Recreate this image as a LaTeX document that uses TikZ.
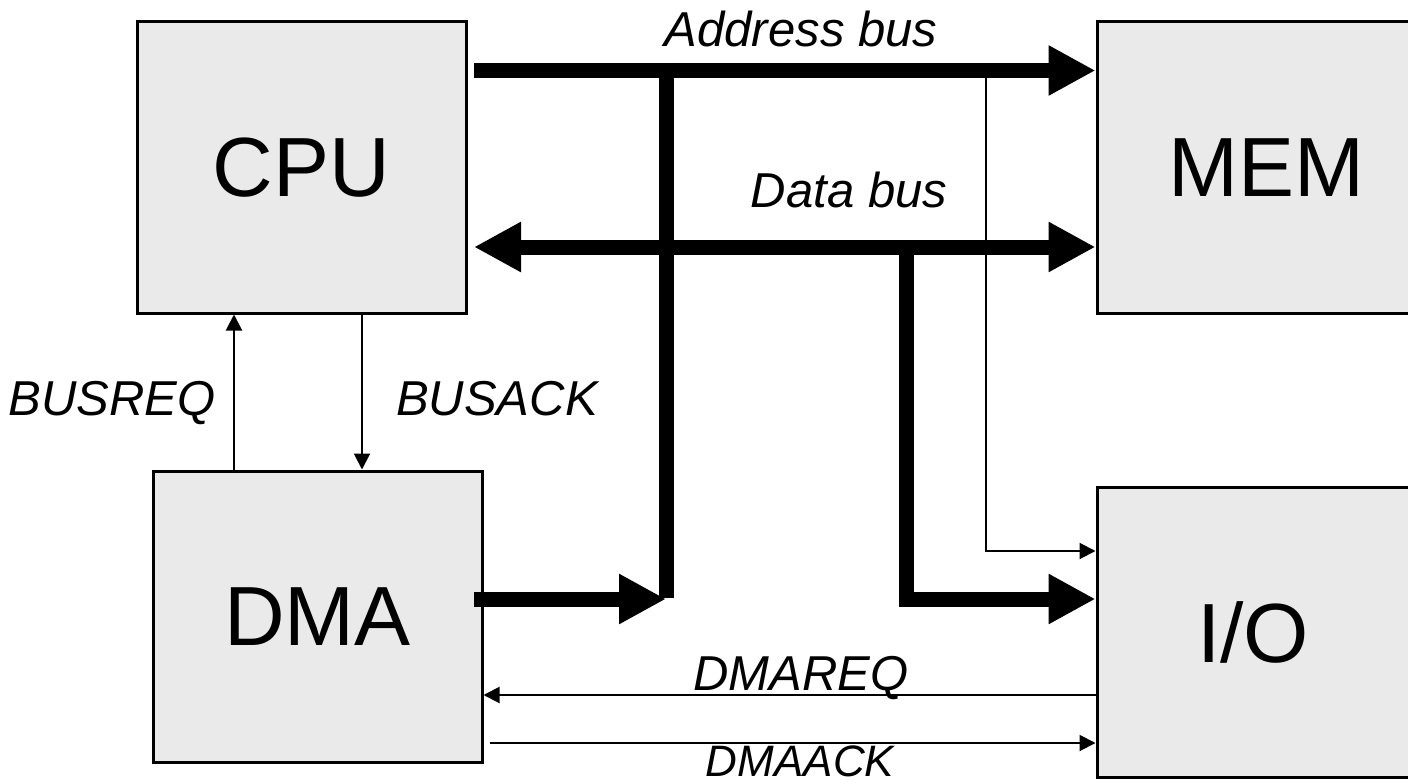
\documentclass[tikz,border=0pt]{standalone}
\usepackage{fontspec}
\setmainfont{Liberation Sans}
\usetikzlibrary{arrows.meta}
\definecolor{boxgray}{HTML}{EAEAEA}
\begin{document}
\begin{tikzpicture}[x=1pt,y=-1pt,
  unit/.style={draw=black, line width=3pt, fill=boxgray, inner sep=0pt,
    minimum width=329pt, minimum height=291pt, font=\fontsize{84}{84}\selectfont},
  bus/.style={line width=15pt, line cap=butt},
  busarrow/.style={bus, -{Triangle[length=47pt,width=47pt]}},
  busboth/.style={bus, {Triangle[length=47pt,width=47pt]}-{Triangle[length=47pt,width=47pt]}},
  sig/.style={line width=2pt, -{Triangle[length=16pt,width=16pt]}},
  lbl/.style={font=\fontsize{49}{49}\selectfont\itshape, inner sep=0pt, anchor=base}]
\useasboundingbox (0,0) rectangle (1408,784);
% units
\node[unit] (CPU) at (301.5,167.5) {CPU};
\node[unit, minimum width=338pt] (MEM) at (1266,167.5) {MEM};
\node[unit] (DMA) at (317.5,616.5) {DMA};
\node[unit, minimum width=338pt, minimum height=290pt] (IO) at (1266,632) {I/O\hspace*{26pt}};
% helper coordinates
\coordinate (abs) at (474,70.5);
\coordinate (dbs) at (474,247);
\coordinate (avt) at (666,63);
\coordinate (avb) at (666,598);
\coordinate (dms) at (474,599);
\coordinate (dvt) at (906,247);
\coordinate (tap) at (986,78);
\coordinate (tapy) at (0,551);
\coordinate (busy) at (0,599);
\coordinate (rqx) at (234,0);
\coordinate (akx) at (362,0);
\coordinate (dry) at (0,695);
\coordinate (dak) at (490,743);
% buses
\draw[busarrow] (abs) -- (abs -| MEM.west);
\draw[bus] (avt) -- (avb);
\draw[busarrow] (dms) -- (dms -| avt);
\draw[busboth] (dbs) -- (dbs -| MEM.west);
\draw[busarrow] (dvt) |- (IO.west |- busy);
\draw[sig] (tap) |- (IO.west |- tapy);
% control signals
\draw[sig] (DMA.north -| rqx) -- (CPU.south -| rqx);
\draw[sig] (CPU.south -| akx) -- (DMA.north -| akx);
\draw[sig] (IO.west |- dry) -- (DMA.east |- dry);
\draw[sig] (dak) -- (dak -| IO.west);
% labels
\node[lbl] (laddr) at (801,47) {Address bus};
\node[lbl] (ldata) at (849,207) {Data bus};
\node[lbl] (lbreq) at (112,415) {BUSREQ};
\node[lbl] (lback) at (497,415) {BUSACK};
\node[lbl] (ldreq) at (801,690) {DMAREQ};
\node[lbl, font=\fontsize{44}{44}\selectfont\itshape] (ldack) at (800,776) {DMAACK};
\end{tikzpicture}
\end{document}
